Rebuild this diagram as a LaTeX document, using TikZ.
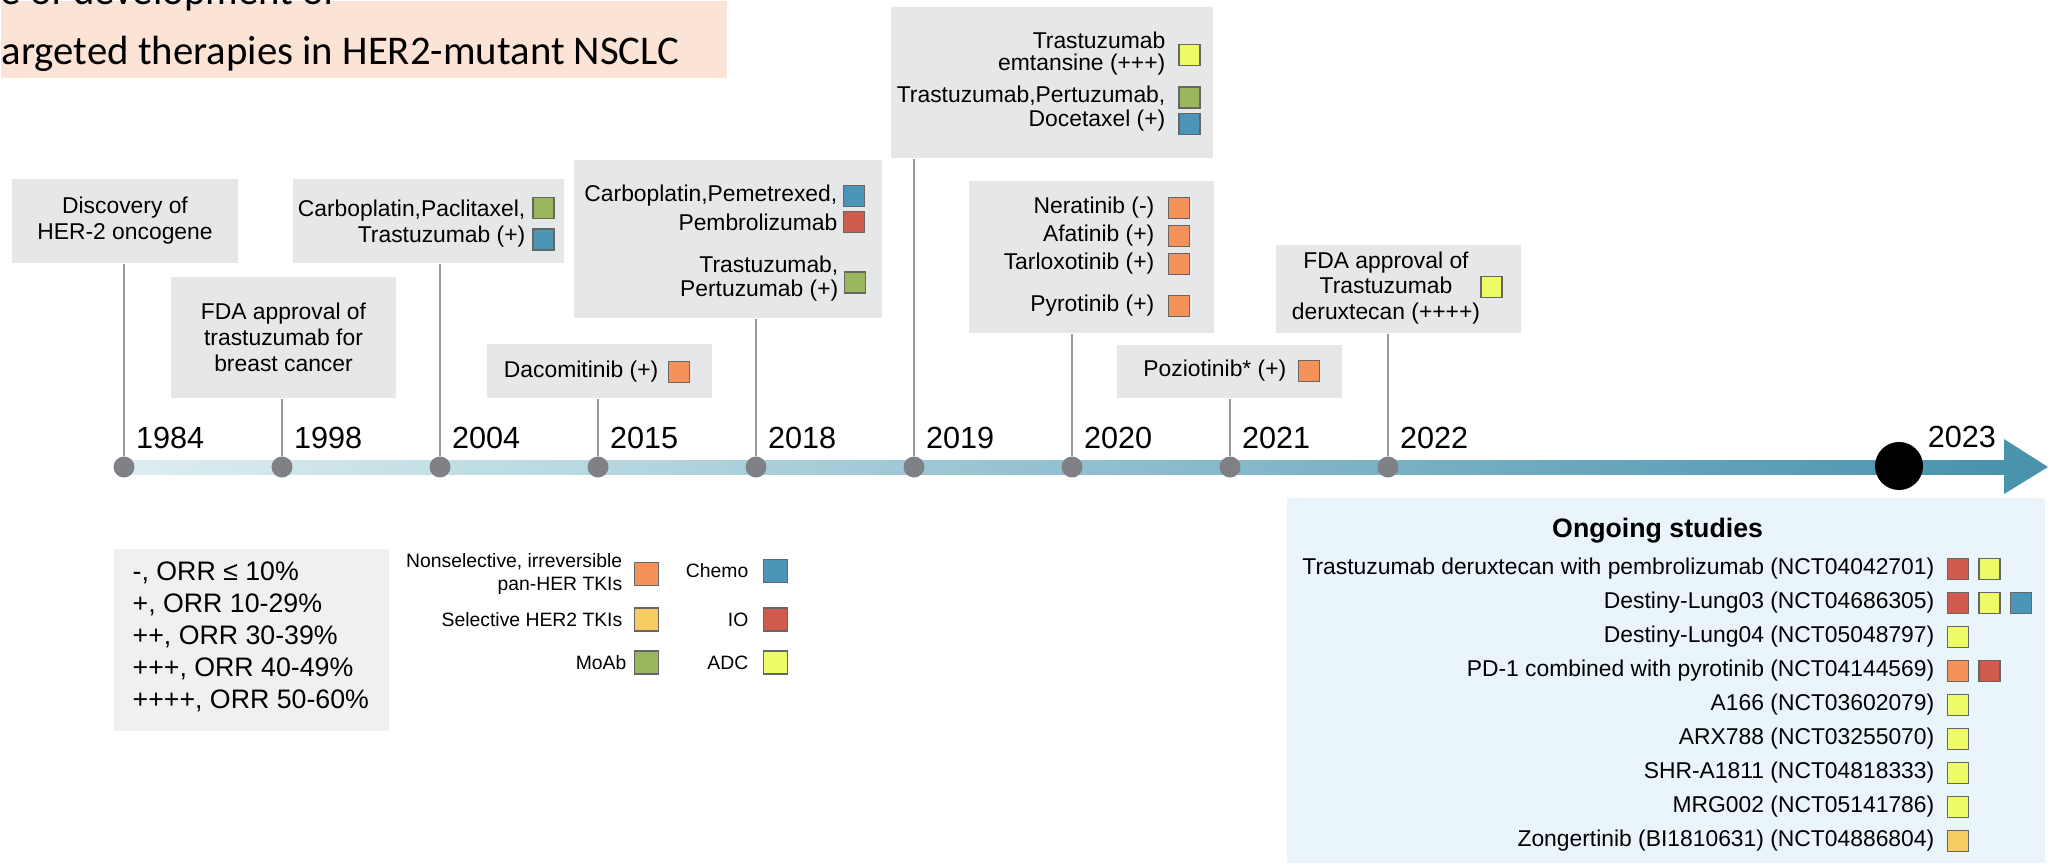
\documentclass[tikz,border=0pt]{standalone}
\usepackage{fontspec}
\setmainfont{Liberation Sans}
\newfontfamily\titlefont{Carlito}
\usepackage{tikz}
\usetikzlibrary{positioning}
\definecolor{boxgrey}{HTML}{E6E7E9}
\definecolor{orrgrey}{HTML}{F0F0F0}
\definecolor{ongoingblue}{HTML}{EAF4FB}
\definecolor{titlepeach}{HTML}{FBE4D6}
\definecolor{dotgrey}{HTML}{808186}
\definecolor{stemgrey}{HTML}{9B9B9B}
\definecolor{axisleft}{HTML}{DCEEF1}
\definecolor{axisright}{HTML}{4A93AD}
\definecolor{ctki}{HTML}{F4925A}
\definecolor{cher}{HTML}{F6CC62}
\definecolor{cmoab}{HTML}{9BB75B}
\definecolor{cchemo}{HTML}{4A95B8}
\definecolor{cio}{HTML}{CE5B4D}
\definecolor{cadc}{HTML}{EEFB68}
\newcommand{\boxfont}{\fontsize{6.5}{7.4}\selectfont}

\begin{document}
\begin{tikzpicture}[x=0.01cm,y=-0.01cm,every node/.style={inner sep=0pt},
  box/.style={fill=boxgrey},
  dot/.style={circle,fill=dotgrey,minimum size=0.21cm},
  yr/.style={font=\fontsize{8.7}{10}\selectfont,inner xsep=1pt,inner ysep=2.8pt},
  stem/.style={draw=stemgrey,line width=0.45pt},
  sq/.style={draw=black!60,line width=0.35pt,fill=#1,minimum width=0.21cm,minimum height=0.21cm},
  lsq/.style={sq=#1,minimum width=0.24cm,minimum height=0.23cm},
  txt/.style={font=\boxfont,anchor=east,align=right},
  ost/.style={font=\fontsize{6.5}{7.5}\selectfont,anchor=east},
  lgd/.style={font=\fontsize{5.5}{6.3}\selectfont,anchor=east,align=right}]
  \useasboundingbox (0,0) rectangle (2049,864);

  \node[fill=titlepeach,anchor=north west,minimum width=7.26cm,minimum height=0.77cm] (ttlbox) at (0,0) {};
  \node[font=\titlefont\fontsize{11.6}{14}\selectfont,anchor=base west] (ttl1) at (0,5) {e of development of};
  \node[font=\titlefont\fontsize{11.6}{14}\selectfont,anchor=base west] (ttl2) at (1,65) {argeted therapies in HER2-mutant NSCLC};

  \shade[left color=axisleft,right color=axisright] (124,460) rectangle (2004,474);
  \fill[axisright] (2004,439) -- (2048,467) -- (2004,494) -- cycle;

  \node[dot,label={[yr]above right:1984}] (d1984) at (124,467) {};
  \node[dot,label={[yr]above right:1998}] (d1998) at (282,467) {};
  \node[dot,label={[yr]above right:2004}] (d2004) at (440,467) {};
  \node[dot,label={[yr]above right:2015}] (d2015) at (598,467) {};
  \node[dot,label={[yr]above right:2018}] (d2018) at (756,467) {};
  \node[dot,label={[yr]above right:2019}] (d2019) at (914,467) {};
  \node[dot,label={[yr]above right:2020}] (d2020) at (1072,467) {};
  \node[dot,label={[yr]above right:2021}] (d2021) at (1230,467) {};
  \node[dot,label={[yr]above right:2022}] (d2022) at (1388,467) {};
  \node[circle,fill=black,minimum size=0.48cm,label={[yr,inner xsep=3pt,inner ysep=0pt]above right:2023}] (d2023) at (1899,466) {};

  \node[box,minimum width=2.25cm,minimum height=0.84cm,align=center,font=\boxfont] (b1984) at (125,221) {Discovery of\\HER-2 oncogene};
  \node[box,minimum width=2.25cm,minimum height=1.21cm,align=center,font=\boxfont] (b1998) at (283.5,337.5) {FDA approval of\\trastuzumab for\\breast cancer};
  \node[box,minimum width=2.71cm,minimum height=0.84cm] (b2004) at (428.5,221) {};
  \node[box,minimum width=2.25cm,minimum height=0.54cm] (b2015) at (599.5,371) {};
  \node[box,minimum width=3.08cm,minimum height=1.58cm] (b2018) at (728,239) {};
  \node[box,minimum width=3.22cm,minimum height=1.51cm] (b2019) at (1052,82.5) {};
  \node[box,minimum width=2.45cm,minimum height=1.52cm] (b2020) at (1091.5,257) {};
  \node[box,minimum width=2.25cm,minimum height=0.53cm] (b2021) at (1229.5,371.5) {};
  \node[box,minimum width=2.45cm,minimum height=0.88cm] (b2022) at (1398.5,289) {};

  \draw[stem] (d1984.north) -- (d1984.north |- b1984.south);
  \draw[stem] (d1998.north) -- (d1998.north |- b1998.south);
  \draw[stem] (d2004.north) -- (d2004.north |- b2004.south);
  \draw[stem] (d2015.north) -- (d2015.north |- b2015.south);
  \draw[stem] (d2018.north) -- (d2018.north |- b2018.south);
  \draw[stem] (d2019.north) -- (d2019.north |- b2019.south);
  \draw[stem] (d2020.north) -- (d2020.north |- b2020.south);
  \draw[stem] (d2021.north) -- (d2021.north |- b2021.south);
  \draw[stem] (d2022.north) -- (d2022.north |- b2022.south);

  \node[txt] (t2004a) at (526,211) {Carboplatin,Paclitaxel,};
  \node[sq=cmoab] (s2004a) at (543.5,208) {};
  \node[txt] (t2004b) at (526,237) {Trastuzumab (+)};
  \node[sq=cchemo] (s2004b) at (543.5,239.5) {};

  \node[txt] (t2015) at (659,372) {Dacomitinib (+)};
  \node[sq=ctki,right=0.09cm of t2015] (s2015) {};

  \node[txt] (t2018a) at (838,196) {Carboplatin,Pemetrexed,};
  \node[sq=cchemo,right=0.05cm of t2018a] (s2018a) {};
  \node[txt] (t2018b) at (838,222) {Pembrolizumab};
  \node[sq=cio,right=0.05cm of t2018b] (s2018b) {};
  \node[txt,font=\fontsize{6.5}{6.6}\selectfont] (t2018c) at (839,278.5) {Trastuzumab,\\Pertuzumab (+)};
  \node[sq=cmoab] (s2018c) at (855,282.5) {};

  \node[txt,font=\fontsize{6.5}{6.2}\selectfont] (t2019a) at (1166,53.3) {Trastuzumab\\emtansine (+++)};
  \node[sq=cadc] (s2019a) at (1189.5,55) {};
  \node[txt,font=\fontsize{6.5}{6.8}\selectfont] (t2019b) at (1166,108.7) {Trastuzumab,Pertuzumab,\\Docetaxel (+)};
  \node[sq=cmoab] (s2019b) at (1189.5,97.5) {};
  \node[sq=cchemo] (s2019c) at (1189.5,124) {};

  \node[txt] (t2020a) at (1155,208) {Neratinib (-)};
  \node[sq=ctki,right=0.13cm of t2020a] (s2020a) {};
  \node[txt] (t2020b) at (1155,236) {Afatinib (+)};
  \node[sq=ctki,right=0.13cm of t2020b] (s2020b) {};
  \node[txt] (t2020c) at (1155,264) {Tarloxotinib (+)};
  \node[sq=ctki,right=0.13cm of t2020c] (s2020c) {};
  \node[txt] (t2020d) at (1155,306) {Pyrotinib (+)};
  \node[sq=ctki,right=0.13cm of t2020d] (s2020d) {};

  \node[txt] (t2021) at (1287,371) {Poziotinib* (+)};
  \node[sq=ctki,right=0.11cm of t2021] (s2021) {};

  \node[font=\fontsize{6.5}{7.2}\selectfont,align=center] (t2022) at (1386,288) {FDA approval of\\Trastuzumab\\deruxtecan (++++)};
  \node[sq=cadc] (s2022) at (1491.5,287) {};

  \node[fill=orrgrey,anchor=north west,minimum width=2.75cm,minimum height=1.82cm] (orrbox) at (113,548) {};
  \node[anchor=west,align=left,font=\fontsize{7.6}{9.1}\selectfont] (orr) at (132,637) {-, ORR ≤ 10\%\\+, ORR 10-29\%\\++, ORR 30-39\%\\+++, ORR 40-49\%\\++++, ORR 50-60\%};

  \node[lgd] (l1) at (623,574) {Nonselective, irreversible\\pan-HER TKIs};
  \node[lsq=ctki,right=0.11cm of l1] (ls1) {};
  \node[lgd] (l2) at (623,619.5) {Selective HER2 TKIs};
  \node[lsq=cher,right=0.11cm of l2] (ls2) {};
  \node[lgd] (l3) at (627,662.5) {MoAb};
  \node[lsq=cmoab,right=0.07cm of l3] (ls3) {};
  \node[lgd] (l4) at (749,571) {Chemo};
  \node[lsq=cchemo,right=0.14cm of l4] (ls4) {};
  \node[lgd] (l5) at (749,619.5) {IO};
  \node[lsq=cio,right=0.14cm of l5] (ls5) {};
  \node[lgd] (l6) at (749,662.5) {ADC};
  \node[lsq=cadc,right=0.14cm of l6] (ls6) {};

  \node[fill=ongoingblue,anchor=north west,minimum width=7.58cm,minimum height=3.65cm] (ongoing) at (1286,497) {};
  \node[font=\bfseries\fontsize{7.6}{9}\selectfont] (ottl) at (1657.6,531) {Ongoing studies};
  \node[ost] (o1) at (1935,569) {Trastuzumab deruxtecan with pembrolizumab (NCT04042701)};
  \node[sq=cio,right=0.12cm of o1] (o1a) {};
  \node[sq=cadc,right=0.09cm of o1a] (o1b) {};
  \node[ost] (o2) at (1935,603) {Destiny-Lung03 (NCT04686305)};
  \node[sq=cio,right=0.12cm of o2] (o2a) {};
  \node[sq=cadc,right=0.09cm of o2a] (o2b) {};
  \node[sq=cchemo,right=0.09cm of o2b] (o2c) {};
  \node[ost] (o3) at (1935,637) {Destiny-Lung04 (NCT05048797)};
  \node[sq=cadc,right=0.12cm of o3] (o3a) {};
  \node[ost] (o4) at (1935,671) {PD-1 combined with pyrotinib (NCT04144569)};
  \node[sq=ctki,right=0.12cm of o4] (o4a) {};
  \node[sq=cio,right=0.09cm of o4a] (o4b) {};
  \node[ost] (o5) at (1935,705) {A166 (NCT03602079)};
  \node[sq=cadc,right=0.12cm of o5] (o5a) {};
  \node[ost] (o6) at (1935,739) {ARX788 (NCT03255070)};
  \node[sq=cadc,right=0.12cm of o6] (o6a) {};
  \node[ost] (o7) at (1935,773) {SHR-A1811 (NCT04818333)};
  \node[sq=cadc,right=0.12cm of o7] (o7a) {};
  \node[ost] (o8) at (1935,807) {MRG002 (NCT05141786)};
  \node[sq=cadc,right=0.12cm of o8] (o8a) {};
  \node[ost] (o9) at (1935,841) {Zongertinib (BI1810631) (NCT04886804)};
  \node[sq=cher,right=0.12cm of o9] (o9a) {};
\end{tikzpicture}
\end{document}
